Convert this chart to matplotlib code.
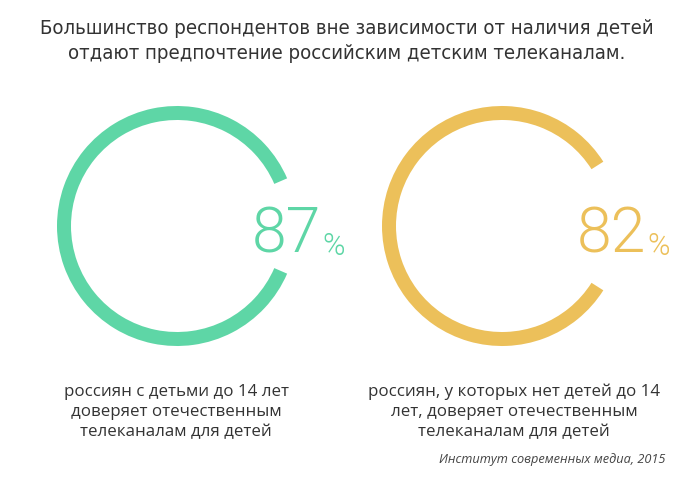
import matplotlib
matplotlib.use("Agg")
import matplotlib.pyplot as plt

# ---- data ----
values = [87, 82]
colors = ["#5ed6a6", "#ecc05a"]
captions = [
    "россиян с детьми до 14 лет\nдоверяет отечественным\nтелеканалам для детей",
    "россиян, у которых нет детей до 14\nлет, доверяет отечественным\nтелеканалам для детей",
]
title = ("Большинство респондентов вне зависимости от наличия детей\n"
         "отдают предпочтение российским детским телеканалам.")
source = "Институт современных медиа, 2015"

W, H = 700, 481
fig = plt.figure(figsize=(W / 100, H / 100), dpi=100)
fig.patch.set_facecolor("white")

# ring geometry in pixels
centers = [(177, 227), (502, 227)]
R = 120
ring_w = 14

for v, c, (cx, cy) in zip(values, colors, centers):
    ax = fig.add_axes([(cx - R) / W, (H - cy - R) / H, 2 * R / W, 2 * R / H])
    gap = 100 - v
    ax.pie([v, gap], colors=[c, "none"], startangle=gap * 360 / 200,
           counterclock=True, radius=1,
           wedgeprops=dict(width=ring_w / R, edgecolor="none"))
    ax.set_xlim(-1, 1)
    ax.set_ylim(-1, 1)
    ax.set_aspect("equal")
    ax.axis("off")

# main text layer
tax = fig.add_axes([0, 0, 1, 1])
tax.set_xlim(0, W)
tax.set_ylim(H, 0)
tax.axis("off")

num_x = [252, 577]
for v, c, x in zip(values, colors, num_x):
    t = tax.text(x, 253, str(v), color=c, fontsize=45, family="Roboto",
                 fontweight=300, ha="left", va="baseline")
    tax.annotate("%", xy=(1, 0), xycoords=t, xytext=(0.5, 3.5),
                 textcoords="offset points", color=c, fontsize=22,
                 family="Roboto", fontweight=300, ha="left", va="bottom")

tax.text(347, 41, title, ha="center", va="center", fontsize=14.6,
         family="DejaVu Sans", fontstretch="condensed", color="#333333",
         linespacing=1.35)

cap_x = [176, 514]
for cap, x in zip(captions, cap_x):
    tax.text(x, 412, cap, ha="center", va="center", fontsize=12.2,
             family="Open Sans", color="#333333", linespacing=1.36)

tax.text(665, 460, source, ha="right", va="center", fontsize=9.2,
         family="Open Sans", style="italic", color="#444444")

fig.savefig("out.png", dpi=100, facecolor="white")
